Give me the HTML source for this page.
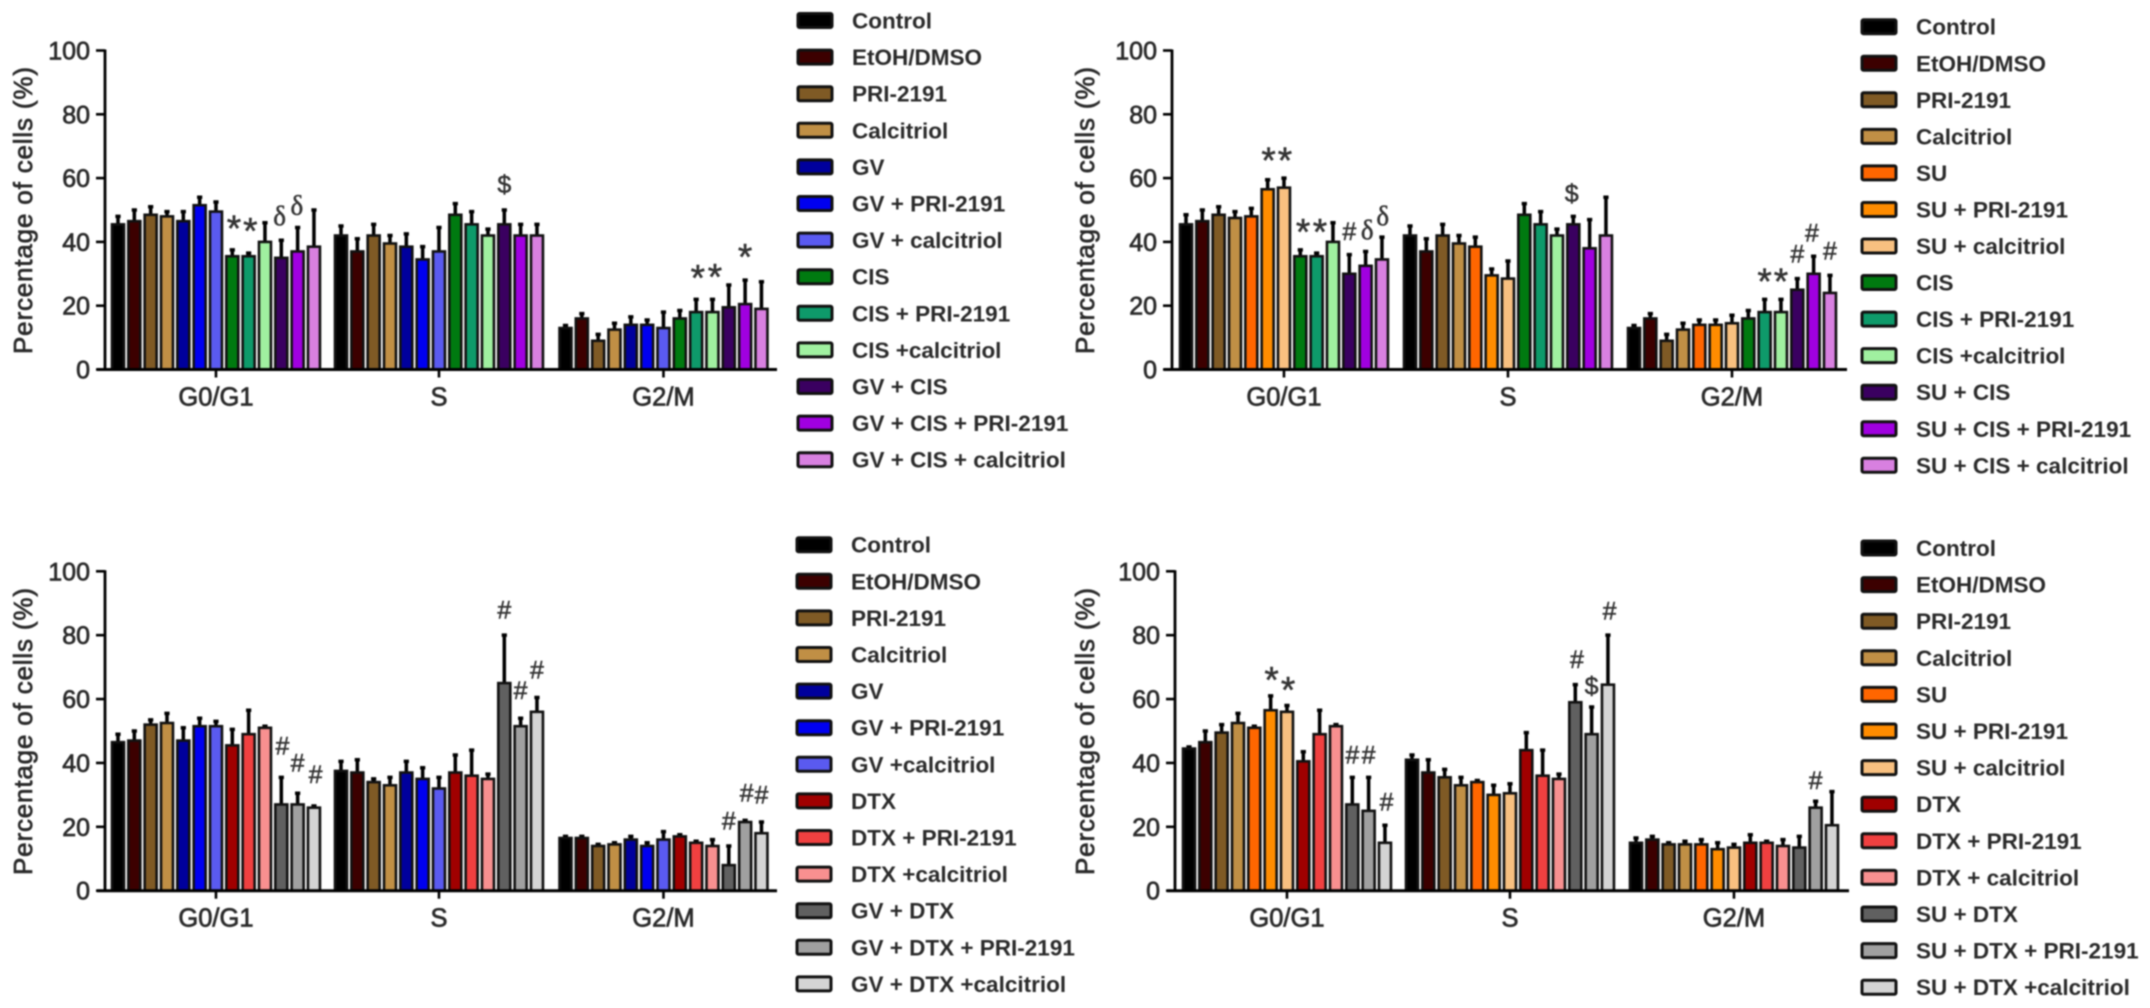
<!DOCTYPE html>
<html lang="en">
<head>
<meta charset="utf-8">
<title>Cell cycle distribution charts</title>
<style>
html,body{margin:0;padding:0;background:#fff;width:2150px;height:1008px;overflow:hidden}
svg{display:block;filter:blur(0.8px)}
text{font-family:"Liberation Sans",Arial,sans-serif;fill:#2a2a2a}
</style>
</head>
<body>
<svg id="figure" xmlns="http://www.w3.org/2000/svg" width="2150" height="1008" viewBox="0 0 2150 1008"></svg>
<script>
const categories = ["G0/G1", "S", "G2/M"];
const yTicks = [0, 20, 40, 60, 80, 100];
const yTitle = "Percentage of cells (%)";

const gvCisLabels = ["Control","EtOH/DMSO","PRI-2191","Calcitriol","GV","GV + PRI-2191","GV + calcitriol","CIS","CIS + PRI-2191","CIS +calcitriol","GV + CIS","GV + CIS + PRI-2191","GV + CIS + calcitriol"];
const suCisLabels = ["Control","EtOH/DMSO","PRI-2191","Calcitriol","SU","SU + PRI-2191","SU + calcitriol","CIS","CIS + PRI-2191","CIS +calcitriol","SU + CIS","SU + CIS + PRI-2191","SU + CIS + calcitriol"];
const gvDtxLabels = ["Control","EtOH/DMSO","PRI-2191","Calcitriol","GV","GV + PRI-2191","GV +calcitriol","DTX","DTX + PRI-2191","DTX +calcitriol","GV + DTX","GV + DTX + PRI-2191","GV + DTX +calcitriol"];
const suDtxLabels = ["Control","EtOH/DMSO","PRI-2191","Calcitriol","SU","SU + PRI-2191","SU + calcitriol","DTX","DTX + PRI-2191","DTX + calcitriol","SU + DTX","SU + DTX + PRI-2191","SU + DTX +calcitriol"];

const gvCisColors = ["#000000","#3c0000","#7f5a25","#c08f45","#00009c","#0000f0","#5a5af0","#007a10","#0e9a6a","#a0f0a0","#3a0060","#a000e0","#d880e0"];
const suCisColors = ["#000000","#3c0000","#7f5a25","#c08f45","#ff6600","#ff8c00","#f8c080","#007a10","#0e9a6a","#a0f0a0","#3a0060","#a000e0","#d880e0"];
const gvDtxColors = ["#000000","#3c0000","#7f5a25","#c08f45","#00009c","#0000f0","#5a5af0","#a00000","#f04040","#f89090","#606060","#a0a0a0","#d4d4d4"];
const suDtxColors = ["#000000","#3c0000","#7f5a25","#c08f45","#ff6600","#ff8c00","#f8c080","#a00000","#f04040","#f89090","#606060","#a0a0a0","#d4d4d4"];

const gvCisG0 = [45.5,46.5,48.5,48,46.5,51.5,49.5,35.5,35.5,40,35,37,38.5];
const gvCisG0Upper = [48,50,51,49.5,49.5,54,52.5,37.5,36.5,46,40.5,44.5,50];
const gvCisS = [42,37,42,39.5,38.5,34.5,37,48.5,45.5,42,45.5,42,42];
const gvCisSUpper = [45,41,45.5,42,42.5,38.5,44.5,52,49.5,44,50,45.5,45.5];
const gvCisG2 = [13,16,9,12.5,14,14,13,16,18,18,19.5,20.5,19];
const gvCisG2Upper = [13.8,17.5,11,14.5,16.5,15.5,18,18.5,22,22,26.5,28,27.5];

const suCisG0 = [45.5,46.5,48.5,47.5,48,56.5,57,35.5,35.5,40,30,32.5,34.5];
const suCisG0Upper = [48.5,50,51,49.5,50.5,59.5,60,37.5,36.5,46,36,37,41.5];
const suCisS = [42,37,42,39.5,38.5,29.5,28.5,48.5,45.5,42,45.5,38,42];
const suCisSUpper = [45,41,45.5,42,41.5,31.5,34,52,49.5,44,48,47,54];
const suCisG2 = [13,16,9,12.5,14,14,14.5,16,18,18,25,30,24];
const suCisG2Upper = [13.8,17.5,11,14.5,15.5,15.5,17,18.5,22,22,28.5,35.5,29.5];

const gvDtxG0 = [46.5,47,52,52.5,47,51.5,51.5,45.5,49,51,27,27,26];
const gvDtxG0Upper = [49,50,53.5,55.5,51,54,53,50.5,56.5,51.5,35.5,30.5,26.5];
const gvDtxS = [37.5,37,34,33,37,35,32,37,36,35,65,51.5,56];
const gvDtxSUpper = [40.5,41,35,35.5,40.5,38.5,35.5,42.5,44,36.5,80,54,60.5];
const gvDtxG2 = [16.5,16.5,14,14.5,16,14,16,17,15,14,8,21.5,18];
const gvDtxG2Upper = [17,17,14.5,15,17,15,18.5,17.5,15.5,16,14,22,21.5];

const suDtxG0 = [44.5,46.5,49.5,52.5,51,56.5,56,40.5,49,51.5,27,25,15];
const suDtxG0Upper = [45,50,52,55.5,51.5,61,58,43.5,56.5,52,35.5,35.5,20.5];
const suDtxS = [41,37,35.5,33,34,30,30.5,44,36,35,59,49,64.5];
const suDtxSUpper = [42.5,41,38,35.5,34.5,33,33.5,49.5,44,36.5,64.5,57.5,80];
const suDtxG2 = [15,16,14.5,14.5,14.5,13,13.5,15,15,14,13.5,26,20.5];
const suDtxG2Upper = [16.5,17,15,15.5,16,15,14.5,17.5,15.5,16,17,28,31];

/* significance marks: [group index, bar index, height in % units, symbol] */
const gvCisMarks = [[0,7.1,46.7,"*"],[0,8.1,45.9,"*"],[0,9.9,48.3,"δ"],[0,10.95,51.7,"δ"],[1,10,58.2,"$"],[2,8.1,31.2,"*"],[2,9.15,31.5,"*"],[2,11,37.8,"*"]];
const suCisMarks = [[0,5.06,68,"*"],[0,6.06,68,"*"],[0,7.17,45.5,"*"],[0,8.2,45.5,"*"],[0,10,43.4,"#"],[0,11.1,44,"δ"],[0,12.05,48.3,"δ"],[1,9.9,55.3,"$"],[2,8,30,"*"],[2,9,30,"*"],[2,10,36.3,"#"],[2,10.9,43,"#"],[2,12,37.3,"#"]];
const gvDtxMarks = [[0,10.07,45.5,"#"],[0,11,40.2,"#"],[0,12.1,36.6,"#"],[1,10,88,"#"],[1,11,62.9,"#"],[1,12,69.3,"#"],[2,10,22,"#"],[2,11.1,30.8,"#"],[2,12,30.1,"#"]];
const suDtxMarks = [[0,5.06,68.4,"*"],[0,6.07,65.3,"*"],[0,10,42.6,"#"],[0,11,42.6,"#"],[0,12.1,27.9,"#"],[1,10.1,72.6,"#"],[1,11,64.3,"$"],[1,12.1,87.8,"#"],[2,11,34.7,"#"]];

const SVGNS = "http://www.w3.org/2000/svg";
const svg = document.getElementById("figure");

function mk(tag, attrs, parent, txt) {
  const e = document.createElementNS(SVGNS, tag);
  for (const k in attrs) e.setAttribute(k, attrs[k]);
  if (txt !== undefined) e.textContent = txt;
  (parent || svg).appendChild(e);
  return e;
}

function drawPanel(cfg) {
  const g = mk("g", {});
  
  
  const yScale = v => cfg.y0 - (cfg.y0 - cfg.y100) * v / 100;
  const xScale = (group, bar) => cfg.firstBar[group] + bar * cfg.step;

  // bars and error bars
  cfg.values.forEach((series, gi) => {
    series.forEach((v, i) => {
      const cx = xScale(gi, i);
      const top = yScale(v);
      const upY = yScale(cfg.uppers[gi][i]);
      const eb = mk("path", {d: "M" + cx + " " + top + "V" + upY + "M" + (cx - 2.6) + " " + upY + "H" + (cx + 2.6), stroke: "#000", "stroke-width": 3.5, fill: "none"}, g);
      
      
      const r = mk("rect", {x: cx - 6, y: top, width: 12, height: cfg.y0 - top, fill: cfg.colors[i], stroke: "#111", "stroke-width": 2.6}, g);
      
      
    });
  });

  // axes
  const ya = mk("line", {x1: cfg.axisX, x2: cfg.axisX, y1: cfg.y100 - 1, y2: cfg.y0, stroke: "#000", "stroke-width": 2.8}, g);
  
  
  const xa = mk("line", {x1: cfg.axisX - 8, x2: cfg.axisEnd, y1: cfg.y0, y2: cfg.y0, stroke: "#000", "stroke-width": 3}, g);
  
  

  yTicks.forEach(t => {
    const y = yScale(t);
    const tk = mk("line", {x1: cfg.axisX - 9, x2: cfg.axisX, y1: y, y2: y, stroke: "#000", "stroke-width": 2.6}, g);
    
    
    const lb = mk("text", {x: cfg.axisX - 15, y: y + 9, "text-anchor": "end", "font-size": 25, stroke: "#2a2a2a", "stroke-width": 0.7}, g, String(t));
    
    
  });

  categories.forEach((c, gi) => {
    const cx = xScale(gi, 6);
    const tk = mk("line", {x1: cx, x2: cx, y1: cfg.y0, y2: cfg.y0 + 8, stroke: "#000", "stroke-width": 2.6}, g);
    
    
    const lb = mk("text", {x: cx, y: cfg.y0 + 36, "text-anchor": "middle", "font-size": 25.5, stroke: "#2a2a2a", "stroke-width": 0.7}, g, c);
    
    
  });

  // y title
  const mid = (cfg.y0 + cfg.y100) / 2 + 0.5;
  const yt = mk("text", {x: 0, y: 0, transform: "translate(" + cfg.titleX + " " + mid + ") rotate(-90)", "text-anchor": "middle", "font-size": 26, stroke: "#2a2a2a", "stroke-width": 0.7, textLength: 287, lengthAdjust: "spacing"}, g, yTitle);
  
  

  // significance marks
  cfg.marks.forEach(m => {
    const sym = m[3];
    const fs = sym === "*" ? 37 : sym === "δ" ? 27 : 25;
    const dy = sym === "*" ? fs * 0.55 : fs * 0.36;
    const t = mk("text", {x: xScale(m[0], m[1]), y: yScale(m[2]) + dy, "text-anchor": "middle", "font-size": fs, stroke: "#333", "stroke-width": 0.5}, g, sym);
    t.style.fill = "#333";
    if (sym === "δ") t.style.fontFamily = '"Liberation Serif", serif';
    
    
  });

  // legend
  cfg.labels.forEach((label, i) => {
    const ly = cfg.legendY + i * cfg.legendStep;
    const item = mk("g", {}, g);
    
    
    const sw = mk("rect", {x: cfg.legendX, y: ly - 7, width: 34, height: 14, rx: 1.5, fill: cfg.colors[i], stroke: "#111", "stroke-width": 3}, item);
    
    
    const tx = mk("text", {x: cfg.legendX + 54, y: ly + 8, "font-size": 22.5, "font-weight": 700}, item, label);
    
    
  });
}

drawPanel({name: "panel-gv-cis", values: [gvCisG0, gvCisS, gvCisG2], uppers: [gvCisG0Upper, gvCisSUpper, gvCisG2Upper], colors: gvCisColors, labels: gvCisLabels, marks: gvCisMarks,
  axisX: 105, axisEnd: 777, y0: 369.5, y100: 50.5, firstBar: [118, 341, 565.5], step: 16.33, titleX: 32, legendX: 798, legendY: 20.5, legendStep: 36.6});
drawPanel({name: "panel-su-cis", values: [suCisG0, suCisS, suCisG2], uppers: [suCisG0Upper, suCisSUpper, suCisG2Upper], colors: suCisColors, labels: suCisLabels, marks: suCisMarks,
  axisX: 1172, axisEnd: 1847, y0: 369.5, y100: 50.5, firstBar: [1186, 1410, 1634], step: 16.33, titleX: 1094, legendX: 1862, legendY: 26.7, legendStep: 36.55});
drawPanel({name: "panel-gv-dtx", values: [gvDtxG0, gvDtxS, gvDtxG2], uppers: [gvDtxG0Upper, gvDtxSUpper, gvDtxG2Upper], colors: gvDtxColors, labels: gvDtxLabels, marks: gvDtxMarks,
  axisX: 105, axisEnd: 777, y0: 890.7, y100: 571.3, firstBar: [118, 341, 565.5], step: 16.33, titleX: 32, legendX: 797, legendY: 544.7, legendStep: 36.6});
drawPanel({name: "panel-su-dtx", values: [suDtxG0, suDtxS, suDtxG2], uppers: [suDtxG0Upper, suDtxSUpper, suDtxG2Upper], colors: suDtxColors, labels: suDtxLabels, marks: suDtxMarks,
  axisX: 1175, axisEnd: 1849, y0: 890.7, y100: 571.3, firstBar: [1189, 1412, 1636], step: 16.33, titleX: 1094, legendX: 1862, legendY: 548, legendStep: 36.6});
</script>
</body>
</html>
